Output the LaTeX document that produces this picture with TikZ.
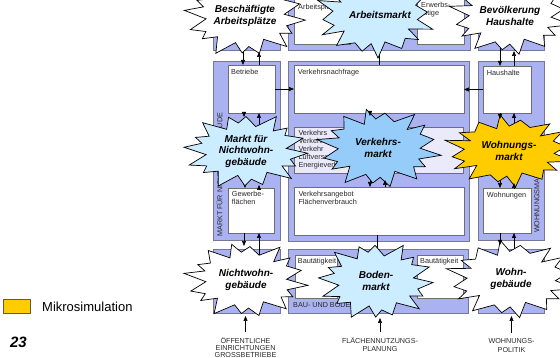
\documentclass[tikz,border=0pt]{standalone}
\usepackage{fontspec}
\setmainfont{Liberation Sans}
\usetikzlibrary{arrows.meta}

\definecolor{panelfill}{RGB}{170,178,242}
\definecolor{panelline}{RGB}{118,118,150}
\definecolor{boxline}{RGB}{110,110,110}
\definecolor{paleband}{RGB}{234,234,250}
\definecolor{skyburst}{RGB}{204,236,255}
\definecolor{blueburst}{RGB}{150,204,250}
\definecolor{goldburst}{RGB}{255,204,0}
\definecolor{textgray}{RGB}{40,40,40}
\definecolor{legendline}{RGB}{90,90,90}

% jagged "explosion" burst: name, cx, cy, rx, ry, fill, phase, label, label x-offset
\newcommand\burst[9]{%
  \draw[burstline,fill=#6] plot[variable=\t,samples at={0,...,31}]
    ({#2+#4*(1-0.27*mod(\t,2))*(1+0.08*sin(113*\t+7*#7))*cos(11.25*\t+#7+3*sin(71*\t+3*#7))},
     {#3+#5*(1-0.27*mod(\t,2))*(1+0.08*sin(113*\t+7*#7))*sin(11.25*\t+#7+3*sin(71*\t+3*#7))})
    -- cycle;
  \node[burstlabel] (#1) at (#2+#9,#3) {#8};%
}

\begin{document}
\begin{tikzpicture}[x=1pt,y=-1pt,
  panelbox/.style={draw=panelline,fill=panelfill,line width=0.9pt,anchor=north west,inner sep=0pt,outer sep=0pt},
  whitebox/.style={draw=boxline,fill=white,line width=0.7pt,anchor=north west,inner sep=0pt,outer sep=0pt},
  palebox/.style={whitebox,fill=paleband},
  boxtext/.style={font=\fontsize{7.3}{8}\selectfont,text=textgray,anchor=base west,inner sep=0pt},
  sidelabel/.style={font=\fontsize{7.2}{8}\selectfont,text=textgray,rotate=90,anchor=west,inner sep=0pt},
  foottext/.style={font=\fontsize{7.2}{8}\selectfont,text=textgray,anchor=base,inner sep=0pt},
  burstline/.style={draw=black,line width=0.7pt,line join=miter},
  burstlabel/.style={font=\fontsize{10}{11.5}\selectfont\bfseries\itshape,align=center,inner sep=0pt},
  arr/.style={-{Triangle[length=5pt,width=4pt]},line width=0.6pt},
  link/.style={line width=0.6pt},
]
\useasboundingbox (0,0) rectangle (560,358);
\clip (0,0) rectangle (560,358);

% ---- lavender panels
\node[panelbox,minimum width=67pt,minimum height=58pt]  (ptl) at (213,-8) {};
\node[panelbox,minimum width=182pt,minimum height=58pt] (ptm) at (288,-8) {};
\node[panelbox,minimum width=66pt,minimum height=58pt]  (ptr) at (478,-8) {};
\node[panelbox,minimum width=67pt,minimum height=179pt] (pml) at (213,61) {};
\node[panelbox,minimum width=181pt,minimum height=180pt] (pmm) at (288,61) {};
\node[panelbox,minimum width=66pt,minimum height=179pt] (pmr) at (478,61) {};
\node[panelbox,minimum width=67pt,minimum height=64pt]  (pbl) at (213,249) {};
\node[panelbox,minimum width=180pt,minimum height=64pt] (pbm) at (288,249) {};
\node[panelbox,minimum width=66pt,minimum height=64pt]  (pbr) at (478,249) {};

% ---- inner boxes
\node[whitebox,minimum width=56pt,minimum height=52pt]  (warb)  at (294,-8) {};
\node[whitebox,minimum width=47pt,minimum height=52pt]  (werw)  at (417,-8) {};
\node[whitebox,minimum width=47pt,minimum height=48pt]  (betr)  at (228,65) {};
\node[whitebox,minimum width=170pt,minimum height=48pt] (vnach) at (294,65) {};
\node[whitebox,minimum width=48pt,minimum height=47pt]  (haus)  at (483,66) {};
\node[palebox,minimum width=169pt,minimum height=46pt]  (vband) at (294,127) {};
\node[whitebox,minimum width=46pt,minimum height=45pt]  (gew)   at (228,188) {};
\node[whitebox,minimum width=170pt,minimum height=48pt] (vang)  at (294,187) {};
\node[whitebox,minimum width=48pt,minimum height=45pt]  (wohn)  at (483,188) {};
\node[whitebox,minimum width=42pt,minimum height=43pt]  (bau1)  at (295,255) {};
\node[whitebox,minimum width=46pt,minimum height=43pt]  (bau2)  at (417,255) {};

% ---- box texts
\node[boxtext] (tarb)  at (298,9.3) {Arbeitsplä};
\node[boxtext] (terw1) at (421,7.6) {Erwerbs-};
\node[boxtext] (terw2) at (421,16) {tätige};
\node[boxtext] (tbetr) at (231,74.3) {Betriebe};
\node[boxtext] (tvn)   at (297.7,74.3) {Verkehrsnachfrage};
\node[boxtext] (thaus) at (486.7,75.3) {Haushalte};
\node[boxtext] (tvb1)  at (298.3,136) {Verkehrs};
\node[boxtext] (tvb2)  at (298.3,144) {Verkehrs};
\node[boxtext] (tvb3)  at (298.3,152) {Verkehr};
\node[boxtext] (tvb4)  at (298.3,160) {Luftversc};
\node[boxtext] (tvb5)  at (298.3,168) {Energieverb};
\node[boxtext] (tgew1) at (231.7,197) {Gewerbe-};
\node[boxtext] (tgew2) at (231.7,205) {flächen};
\node[boxtext] (tva1)  at (298.3,196.6) {Verkehrsangebot};
\node[boxtext] (tva2)  at (298.3,204.6) {Flächenverbrauch};
\node[boxtext] (twohn) at (486.7,197.6) {Wohnungen};
\node[boxtext] (tbau1) at (297.7,263.6) {Bautätigkeit};
\node[boxtext] (tbau2) at (420,263.6) {Bautätigkeit};

% ---- rotated panel titles and bottom caption
\node[sidelabel] (mnside) at (219.5,237) {MARKT FÜR NICHTWOHNGEBÄUDE};
\node[sidelabel] (wmside) at (537,233) {WOHNUNGSMARKT};
\node[font=\fontsize{7.2}{8}\selectfont,text=textgray,anchor=west,inner sep=0pt] (bbm) at (293,305.5) {BAU- UND BODENMARKT};

% ---- horizontal flows into the demand box
\draw[arr] (betr.east) -- (vnach.west);
\draw[arr] (haus.west) -- (vnach.east |- haus.west);

% ---- connectors leaving the bursts (tails hidden beneath them)
\coordinate (bapA) at (243,35);  \draw[arr] (bapA) -- (bapA |- betr.north);
\coordinate (bhA)  at (500,35);  \draw[arr] (bhA) -- (bhA |- haus.north);
\coordinate (amA)  at (379,35);  \draw[link] (amA) -- (amA |- vnach.north);
\coordinate (mnA)  at (259,150); \draw[arr] (mnA) -- (mnA |- betr.south);
\coordinate (mnB)  at (245,150); \draw[arr] (mnB) -- (mnB |- gew.north);
\coordinate (vmA)  at (384,148); \draw[arr] (vmA) -- (vmA |- vnach.south);
\coordinate (vmB)  at (370,148); \draw[arr] (vmB) -- (vmB |- vang.north);
\coordinate (wmA)  at (514,151); \draw[arr] (wmA) -- (wmA |- haus.south);
\coordinate (wmB)  at (500,151); \draw[arr] (wmB) -- (wmB |- wohn.north);
\coordinate (ngA)  at (259,280); \draw[arr] (ngA) -- (ngA |- gew.south);
\coordinate (wgA)  at (514,279); \draw[arr] (wgA) -- (wgA |- wohn.south);
\coordinate (bmA)  at (377,281); \draw[link] (bmA) -- (bmA |- vang.south);

% ---- bursts
\burst{bap}{245}{16}{58}{39}{white}{5}{Beschäftigte\\Arbeitsplätze}{0}
\burst{am}{375}{15}{57}{40}{skyburst}{17}{Arbeitsmarkt}{5}
\burst{bh}{510}{16}{58}{37}{white}{11}{Bevölkerung\\Haushalte}{0}
\burst{mn}{246}{151}{60}{36}{skyburst}{3}{Markt für\\Nichtwohn-\\gebäude}{0}
\burst{vm}{379}{148}{59}{38}{blueburst}{9}{Verkehrs-\\markt}{-1}
\burst{wm}{509}{151}{62}{34}{goldburst}{14}{Wohnungs-\\markt}{0}
\burst{ng}{246}{280}{59}{36}{white}{7}{Nichtwohn-\\gebäude}{0}
\burst{bm}{376}{281}{56}{37}{skyburst}{2}{Boden-\\markt}{0}
\burst{wg}{511}{279}{62}{37}{white}{12}{Wohn-\\gebäude}{0}

% ---- connectors pointing into the bursts
\coordinate (bapB) at (259,52);  \draw[arr] (bapB |- betr.north) -- (bapB);
\coordinate (bhB)  at (514,51);  \draw[arr] (bhB |- haus.north) -- (bhB);
\coordinate (mnC)  at (244,117); \draw[arr] (mnC |- betr.south) -- (mnC);
\coordinate (mnD)  at (259,185); \draw[arr] (mnD |- gew.north) -- (mnD);
\coordinate (vmC)  at (370,116); \draw[arr] (vmC |- vnach.south) -- (vmC);
\coordinate (vmD)  at (385,180); \draw[arr] (vmD |- vang.north) -- (vmD);
\coordinate (wmC)  at (500,119); \draw[arr] (wmC |- haus.south) -- (wmC);
\coordinate (wmD)  at (514,183); \draw[arr] (wmD |- wohn.north) -- (wmD);
\coordinate (ngB)  at (244,246); \draw[arr] (ngB |- gew.south) -- (ngB);
\coordinate (wgB)  at (500,245); \draw[arr] (wgB |- wohn.south) -- (wgB);

% ---- policy inputs at the bottom
\node[foottext] (f1a) at (245.5,343) {ÖFFENTLICHE};
\node[foottext] (f1b) at (245.5,350.4) {EINRICHTUNGEN};
\node[foottext] (f1c) at (245.5,357.6) {GROSSBETRIEBE};
\node[foottext] (f2a) at (380,343.6) {FLÄCHENNUTZUNGS-};
\node[foottext] (f2b) at (380,351.3) {PLANUNG};
\node[foottext] (f3a) at (511.5,343.6) {WOHNUNGS-};
\node[foottext] (f3b) at (511.5,352.3) {POLITIK};
\coordinate (ngF) at (245.5,316); \draw[arr] ([yshift=5pt]f1a.north) -- (ngF);
\coordinate (bmF) at (380,318);   \draw[arr] ([yshift=5pt]f2a.north) -- (bmF);
\coordinate (wgF) at (511.5,316); \draw[arr] ([yshift=5pt]f3a.north) -- (wgF);

% ---- legend and page number
\node[draw=legendline,fill=goldburst,line width=0.8pt,anchor=north west,minimum width=27pt,minimum height=14pt,inner sep=0pt] (legendbox) at (3,299) {};
\node[anchor=west,font=\fontsize{13}{14}\selectfont,inner sep=0pt] (legendtext) at (42,306.5) {Mikrosimulation};
\node[font=\fontsize{15}{16}\selectfont\bfseries\itshape,inner sep=0pt] (pageno) at (18.5,342) {23};
\end{tikzpicture}
\end{document}
